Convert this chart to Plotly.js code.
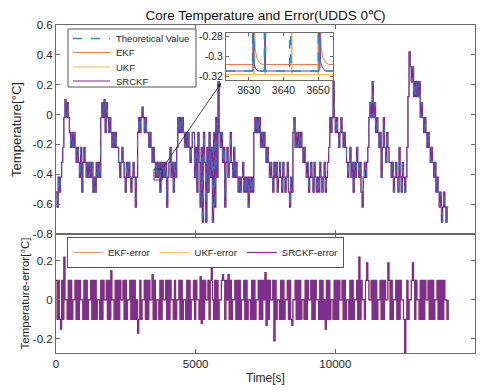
<!DOCTYPE html>
<html><head><meta charset="utf-8">
<script src="https://cdn.plot.ly/plotly-3.0.1.min.js"></script>
<style>html,body{margin:0;padding:0;background:#fff}#chart{width:489px;height:391px}</style>
</head><body><div id="chart"></div>
<script>
// ---- sample times (s) ----
const timeS = [
0,40,80,120,160,200,240,280,320,360,400,440,480,520,560,600,640,680,720,760,
800,840,880,920,960,1000,1040,1080,1120,1160,1200,1240,1280,1320,1360,1400,1440,1480,1520,1560,
1600,1640,1680,1720,1760,1800,1840,1880,1920,1960,2000,2040,2080,2120,2160,2200,2240,2280,2320,2360,
2400,2440,2480,2520,2560,2600,2640,2680,2720,2760,2800,2840,2880,2920,2960,3000,3040,3080,3120,3160,
3200,3240,3280,3320,3360,3400,3440,3480,3520,3560,3600,3640,3680,3720,3760,3800,3840,3880,3920,3960,
4000,4040,4080,4120,4160,4200,4240,4280,4320,4360,4400,4440,4480,4520,4560,4600,4640,4680,4720,4760,
4800,4840,4880,4920,4960,5000,5040,5080,5120,5160,5200,5240,5280,5320,5360,5400,5440,5480,5520,5560,
5600,5640,5680,5720,5760,5800,5840,5880,5920,5960,6000,6040,6080,6120,6160,6200,6240,6280,6320,6360,
6400,6440,6480,6520,6560,6600,6640,6680,6720,6760,6800,6840,6880,6920,6960,7000,7040,7080,7120,7160,
7200,7240,7280,7320,7360,7400,7440,7480,7520,7560,7600,7640,7680,7720,7760,7800,7840,7880,7920,7960,
8000,8040,8080,8120,8160,8200,8240,8280,8320,8360,8400,8440,8480,8520,8560,8600,8640,8680,8720,8760,
8800,8840,8880,8920,8960,9000,9040,9080,9120,9160,9200,9240,9280,9320,9360,9400,9440,9480,9520,9560,
9600,9640,9680,9720,9760,9800,9840,9880,9920,9960,10000,10040,10080,10120,10160,10200,10240,10280,10320,10360,
10400,10440,10480,10520,10560,10600,10640,10680,10720,10760,10800,10840,10880,10920,10960,11000,11040,11080,11120,11160,
11200,11240,11280,11320,11360,11400,11440,11480,11520,11560,11600,11640,11680,11720,11760,11800,11840,11880,11920,11960,
12000,12040,12080,12120,12160,12200,12240,12280,12320,12360,12400,12440,12480,12520,12560,12600,12640,12680,12720,12760,
12800,12840,12880,12920,12960,13000,13040,13080,13120,13160,13200,13240,13280,13320,13360,13400,13440,13480,13520,13560,
13600,13640,13680,13720,13760,13800,13840,13880,13920,13960,14000,14040];

// ---- core temperature (theoretical value; EKF/UKF/SRCKF overlap it at this scale) ----
const coreTemp = [
-0.52,-0.62,-0.42,-0.52,-0.42,-0.32,
-0.22,-0.02,0.1,-0.02,0.08,-0.02,
-0.12,-0.22,-0.12,-0.22,-0.12,
-0.22,-0.32,-0.22,-0.32,-0.42,-0.22,-0.52,-0.32,-0.22,-0.32,-0.42,-0.32,
-0.42,-0.32,-0.42,-0.32,-0.52,-0.42,-0.52,-0.32,-0.42,-0.32,-0.42,
-0.02,0.08,-0.02,0.1,-0.12,0.08,-0.02,-0.12,-0.02,
-0.12,-0.22,-0.12,-0.22,-0.12,-0.22,
-0.22,-0.32,-0.42,-0.32,-0.22,-0.32,-0.42,-0.52,-0.32,-0.42,-0.32,-0.42,-0.52,-0.42,-0.32,-0.42,-0.62,-0.42,
-0.12,-0.02,-0.12,-0.02,0.05,-0.02,-0.12,-0.02,-0.12,
-0.12,-0.22,-0.12,-0.22,-0.32,-0.22,-0.32,
-0.42,-0.32,-0.42,-0.32,-0.52,-0.32,-0.42,-0.32,-0.42,
-0.32,-0.62,-0.42,-0.32,-0.22,-0.42,-0.32,-0.52,-0.32,-0.42,-0.22,
-0.02,-0.12,-0.02,-0.12,-0.02,
-0.12,-0.22,-0.12,-0.22,-0.12,-0.22,-0.32,-0.22,-0.12,
-0.12,-0.42,-0.22,-0.52,-0.12,-0.32,-0.62,-0.22,-0.72,-0.12,-0.32,-0.72,-0.22,-0.52,-0.12,-0.42,-0.22,-0.72,-0.12,-0.62,-0.02,-0.42,0.22,-0.12,
-0.22,-0.12,-0.32,-0.22,-0.62,-0.32,-0.22,-0.42,-0.32,-0.12,-0.32,-0.42,-0.22,-0.42,-0.32,-0.42,
-0.52,-0.42,-0.52,-0.42,-0.32,-0.52,-0.42,-0.52,-0.42,-0.62,-0.42,-0.52,-0.42,-0.52,
-0.12,-0.02,-0.12,-0.02,-0.12,-0.02,-0.22,-0.12,-0.22,-0.12,-0.22,-0.32,-0.22,-0.32,
-0.42,-0.32,-0.42,-0.52,-0.32,-0.42,-0.32,-0.52,-0.42,-0.32,-0.42,-0.52,-0.32,-0.42,-0.52,-0.42,-0.32,-0.52,-0.62,-0.42,-0.52,
-0.12,-0.02,-0.22,-0.12,-0.22,
-0.12,-0.22,-0.12,-0.22,-0.32,-0.22,-0.32,-0.42,-0.32,-0.52,-0.42,-0.32,-0.42,-0.52,-0.32,-0.42,-0.52,-0.42,-0.52,-0.32,-0.42,-0.52,-0.42,-0.32,-0.52,-0.42,-0.32,
-0.22,-0.02,-0.12,-0.02,0.22,-0.02,
-0.12,-0.02,-0.12,-0.22,-0.12,-0.02,-0.12,-0.22,-0.12,-0.22,
-0.32,-0.42,-0.32,-0.22,-0.42,-0.32,-0.52,-0.32,-0.42,-0.22,-0.32,-0.42,-0.32,-0.52,-0.62,-0.42,-0.32,-0.42,-0.32,-0.22,
-0.02,0.08,-0.02,0.22,-0.02,0.08,-0.12,-0.02,
-0.12,-0.22,-0.12,-0.42,-0.22,-0.02,-0.22,-0.32,-0.12,-0.22,-0.32,
-0.32,-0.42,-0.32,-0.52,-0.42,-0.32,-0.42,-0.52,-0.22,-0.42,-0.52,-0.32,-0.42,-0.52,-0.42,-0.22,
0.12,0.42,
0.32,0.22,0.32,0.12,0.22,0.12,0.22,0.12,0.22,
-0.02,0.08,-0.02,-0.12,-0.02,-0.12,-0.22,-0.12,-0.22,-0.32,-0.22,-0.32,
-0.42,-0.32,-0.52,-0.42,
-0.52,-0.62,-0.52,-0.72,-0.62,-0.52,-0.62,-0.72,-0.62,-0.62];

// ---- estimation error band (filters switch between -0.1, 0, +0.1) ----
const errorBand = [
0.1,-0.1,0.1,-0.1,0,0.1,-0.1,0.1,0,0,-0.1,0.1,-0.1,0.1,-0.1,0,
0,0.1,-0.1,0.1,-0.1,0.1,0,0,-0.1,0.1,-0.1,0.1,-0.1,0,0,0.1,
-0.1,0.1,-0.1,0.1,-0.1,0,0,-0.1,0.1,-0.1,0.1,0,0,0.1,-0.1,0.1,
-0.1,0.1,0,0,-0.1,0.1,-0.1,0.1,-0.1,0.1,0,0,0.1,-0.1,0.1,-0.1,
0,0,0.1,-0.1,0.1,-0.1,0.1,-0.1,0,0,-0.1,0.1,-0.1,0,0,0.1,
-0.1,0.1,-0.1,0.1,0,0,0.1,-0.1,0.1,-0.1,0,0,-0.1,0.1,-0.1,0.1,
0,0,0.1,-0.1,0.1,-0.1,0.1,0,0,-0.1,0.1,-0.1,0,0,0.1,-0.1,
0.1,-0.1,0,0,-0.1,0.1,-0.1,0.1,-0.1,0,0,0.1,-0.1,0.1,0,0,
-0.1,0.1,-0.1,0.1,-0.1,0.1,0,0,0.1,-0.1,0.1,0,0,-0.1,0.1,-0.1,
0.1,-0.1,0,0,0.1,-0.1,0.1,-0.1,0.1,0,0,-0.1,0.1,-0.1,0,0,
0.1,-0.1,0.1,-0.1,0.1,-0.1,0,0,0.1,-0.1,0.1,-0.1,0,0,-0.1,0.1,
-0.1,0.1,-0.1,0,0,0.1,-0.1,0.1,-0.1,0.1,0,0,-0.1,0.1,-0.1,0.1,
0,0,0.1,-0.1,0.1,-0.1,0,0,-0.1,0.1,-0.1,0.1,-0.1,0,0,0.1,
-0.1,0.1,-0.1,0.1,0,0,0.1,-0.1,0.1,-0.1,0.1,-0.1,0,0,-0.1,0.1,
-0.1,0.1,0,0,0.1,-0.1,0.1,-0.1,0.1,0,0,-0.1,0.1,-0.1,0.1,-0.1,
0,0,0.1,-0.1,0.1,-0.1,0,0,-0.1,0.1,-0.1,0.1,-0.1,0.1,0,0,
0.1,-0.1,0.1,-0.1,0,0,-0.1,0.1,-0.1,0.1,-0.1,0,0,0.1,-0.1,0.1,
-0.1,0.1,0,0,-0.1,0.1,-0.1,0.1,0,0,0.1,-0.1,0.1,-0.1,0.1,-0.1,
0,0,0.1,-0.1,0.1,-0.1,0.1,0,0,-0.1,0.1,-0.1,0.1,-0.1,0,0,
0.1,-0.1,0.1,-0.1,0.1,0,0,-0.1,0.1,-0.1,0.1,-0.1,0,0,0.1,-0.1,
0.1,-0.1,0.1,0,0,-0.1,0.1,-0.1,0.1,-0.1,0.1,0,0,0.1,-0.1,0.1,
-0.1,0.1,-0.1,0,0,0.1,-0.1,0.1,-0.1,0.1,-0.1,0.1,0,0,-0.1,0];

// error spikes (time s, value)
const errSpikeTimes  = [160,280,1960,2920,3440,5160,5200,5560,5960,6160,7480,7520,7800,8440,9640,10840,11120,11880,12480,12760];
const errSpikeValues = [-0.15,0.22,0.15,-0.17,0.13,0.12,-0.12,0.16,0.13,0.13,0.14,-0.13,-0.21,-0.13,-0.15,0.22,0.19,0.19,-0.28,0.19];

// ---- inset (zoom 3623-3654 s) ----
const insetTheoryT = [3623.4,3631.1,3631.1,3631.5,3631.5,3634.5,3634.5,3634.8,3634.8,3641.8,3641.8,3642.1,3642.1,3650.1,3650.1,3650.5,3650.5,3654.3];
const insetTheoryV = [-0.315,-0.315,-0.215,-0.215,-0.315,-0.315,-0.215,-0.215,-0.315,-0.315,-0.215,-0.215,-0.315,-0.315,-0.215,-0.215,-0.315,-0.315];
const insetEkfT = [3623.4,3631.2,3631.25,3631.5,3631.8,3632.3,3633.2,3634.0,3650.3,3650.35,3650.6,3650.9,3651.4,3652.3,3653.1,3654.3];
const insetEkfV = [-0.3085,-0.3085,-0.21,-0.27,-0.292,-0.302,-0.307,-0.3085,-0.3085,-0.21,-0.27,-0.292,-0.302,-0.307,-0.3085,-0.3085];
const insetUkfT = [3623.4,3631.5,3631.5,3631.7,3631.7,3634.6,3634.6,3634.8,3634.8,3642.3,3642.3,3642.5,3642.5,3649.9,3649.9,3650.1,3650.1,3654.3];
const insetUkfV = [-0.3187,-0.3187,-0.215,-0.215,-0.3187,-0.3187,-0.215,-0.215,-0.3187,-0.3187,-0.215,-0.215,-0.3187,-0.3187,-0.215,-0.215,-0.3187,-0.3187];
const insetSrckfT = [3623.4,3631.2,3631.25,3631.5,3631.9,3632.5,3634.6,3634.65,3634.8,3650.3,3650.35,3650.7,3651.2,3652.0,3654.3];
const insetSrckfV = [-0.315,-0.315,-0.215,-0.308,-0.312,-0.315,-0.315,-0.215,-0.315,-0.315,-0.215,-0.306,-0.311,-0.315,-0.315];

// ---- ticks / legend labels ----
const timeTickVals = [0,5000,10000,15000];
const timeTickText = ['0','5000','10000','15000'];
const tempTickVals = [-0.8,-0.6,-0.4,-0.2,0,0.2,0.4,0.6];
const tempTickText = ['-0.8','-0.6','-0.4','-0.2','0','0.2','0.4','0.6'];
const errTickVals = [-0.2,0,0.2];
const errTickText = ['-0.2','0','0.2'];
const insetXTickVals = [3630,3640,3650];
const insetXTickText = ['3630','3640','3650'];
const insetYTickVals = [-0.32,-0.3,-0.28];
const insetYTickText = ['-0.32','-0.3','-0.28'];
const topLegendNames = ['Theoretical Value','EKF','UKF','SRCKF'];

// ---- build ----
const filterError = errorBand.map((v,i)=>{const k=errSpikeTimes.indexOf(timeS[i]);return k>=0?errSpikeValues[k]:v;});

const C = {theory:'#2F86D3', ekf:'#EC7A57', ukf:'#F0BE3C', srckf:'#7E2F8E'};
const FONT = 'Liberation Sans, Arial, Helvetica, sans-serif';
const AX = '#6b6b6b';

const traces = [
 {x:timeS,y:coreTemp,name:'EKF',type:'scatter',mode:'lines',line:{color:C.ekf,width:0.6,shape:'hv',simplify:false},showlegend:false,xaxis:'x',yaxis:'y'},
 {x:timeS,y:coreTemp,name:'UKF',type:'scatter',mode:'lines',line:{color:C.ukf,width:0.6,shape:'hv',simplify:false},showlegend:false,xaxis:'x',yaxis:'y'},
 {x:timeS,y:coreTemp,name:'SRCKF',type:'scatter',mode:'lines',line:{color:C.srckf,width:1.3,shape:'hv',simplify:false},showlegend:false,xaxis:'x',yaxis:'y'},
 {x:timeS,y:coreTemp,name:'Theoretical Value',type:'scatter',mode:'lines',opacity:0.75,line:{color:C.theory,width:0.9,dash:'dash',shape:'hv',simplify:false},showlegend:false,xaxis:'x',yaxis:'y'},

 {x:timeS,y:filterError,name:'EKF-error',type:'scatter',mode:'lines',line:{color:C.ekf,width:0.8,shape:'hv',simplify:false},legend:'legend2',xaxis:'x2',yaxis:'y2'},
 {x:timeS,y:filterError,name:'UKF-error',type:'scatter',mode:'lines',line:{color:C.ukf,width:0.8,shape:'hv',simplify:false},legend:'legend2',xaxis:'x2',yaxis:'y2'},
 {x:timeS,y:filterError,name:'SRCKF-error',type:'scatter',mode:'lines',line:{color:C.srckf,width:1.2,shape:'hv',simplify:false},legend:'legend2',xaxis:'x2',yaxis:'y2'},

 {x:insetEkfT,y:insetEkfV,type:'scatter',mode:'lines',line:{color:C.ekf,width:1},showlegend:false,xaxis:'x3',yaxis:'y3'},
 {x:insetUkfT,y:insetUkfV,type:'scatter',mode:'lines',line:{color:C.ukf,width:1},showlegend:false,xaxis:'x3',yaxis:'y3'},
 {x:insetSrckfT,y:insetSrckfV,type:'scatter',mode:'lines',line:{color:C.srckf,width:1},showlegend:false,xaxis:'x3',yaxis:'y3'},
 {x:insetTheoryT,y:insetTheoryV,type:'scatter',mode:'lines',line:{color:C.theory,width:1.6,dash:'dash'},showlegend:false,xaxis:'x3',yaxis:'y3'}
];

// top legend (boxed key, pixel positions converted to paper coords)
const PL=56, PW=419, PB=353, PH=328;
const px = x => (x-PL)/PW, py = y => (PB-y)/PH;
const legendStyles = [
 {color:C.theory,width:1.6,dash:'dash'},
 {color:C.ekf,width:1.2,dash:'solid'},
 {color:C.ukf,width:1.2,dash:'solid'},
 {color:C.srckf,width:1.2,dash:'solid'}
];
const legendRowY = [38.5,52.5,67,81];
const shapes = [
 {type:'rect',xref:'x',yref:'y',x0:3508,x1:3806,y0:-0.438,y1:-0.3646,line:{color:'#222',width:0.8}},
 {type:'rect',xref:'paper',yref:'paper',x0:px(68),x1:px(196),y0:py(87),y1:py(29),line:{color:'#555',width:1},fillcolor:'#fff',layer:'above'}
];
const annotations = [
 {x:5907,y:0.2115,xref:'x',yref:'y',ax:-59,ay:86,text:'',showarrow:true,arrowhead:2,arrowsize:1,arrowwidth:0.8,arrowcolor:'#222'}
];
topLegendNames.forEach((name,i)=>{
  shapes.push({type:'line',xref:'paper',yref:'paper',x0:px(73),x1:px(110),y0:py(legendRowY[i]),y1:py(legendRowY[i]),line:legendStyles[i],layer:'above'});
  annotations.push({xref:'paper',yref:'paper',x:px(114),y:py(legendRowY[i]),xanchor:'left',yanchor:'middle',text:name,showarrow:false,
    font:{family:FONT,size:9.5,color:'#262626'}});
});

const baseAxis = {showline:true,linecolor:AX,linewidth:1,mirror:'ticks',ticks:'inside',ticklen:4,tickcolor:AX,
  showgrid:false,zeroline:false,automargin:false,tickfont:{family:FONT,size:11.5,color:'#262626'}};

const layout = {
 width:489,height:391,margin:{l:56,r:14,t:25,b:38,pad:0},
 paper_bgcolor:'#fff',plot_bgcolor:'#fff',
 font:{family:FONT,color:'#262626'},
 title:{text:'Core Temperature and Error(UDDS 0℃)',font:{family:FONT,size:13.5,color:'#111'},
        x:0.5,xref:'paper',xanchor:'center',y:1-15/391,yref:'container',yanchor:'middle'},
 xaxis:Object.assign({},baseAxis,{domain:[0,1],anchor:'y',range:[0,15000],tickvals:timeTickVals,showticklabels:false}),
 yaxis:Object.assign({},baseAxis,{domain:[0.3628,1],anchor:'x',range:[-0.8,0.6],tickvals:tempTickVals,ticktext:tempTickText,
        title:{text:'Temperature[°C]',font:{family:FONT,size:13,color:'#262626'},standoff:8}}),
 xaxis2:Object.assign({},baseAxis,{domain:[0,1],anchor:'y2',range:[0,15000],tickvals:timeTickVals,ticktext:timeTickText,
        title:{text:'Time[s]',font:{family:FONT,size:12,color:'#262626'},standoff:4}}),
 yaxis2:Object.assign({},baseAxis,{domain:[0,0.3628],anchor:'x2',range:[-0.272,0.338],tickvals:errTickVals,ticktext:errTickText,
        title:{text:'Temperature-error[°C]',font:{family:FONT,size:11.5,color:'#262626'},standoff:0}}),
 xaxis3:Object.assign({},baseAxis,{domain:[0.4057,0.661],anchor:'y3',range:[3623.4,3654.3],tickvals:insetXTickVals,ticktext:insetXTickText,
        ticklen:3,tickfont:{family:FONT,size:10.5,color:'#262626'}}),
 yaxis3:Object.assign({},baseAxis,{domain:[0.8323,0.9756],anchor:'x3',range:[-0.324,-0.277],tickvals:insetYTickVals,ticktext:insetYTickText,
        ticklen:3,tickfont:{family:FONT,size:10.5,color:'#262626'}}),
 legend2:{orientation:'h',x:0.026,y:0.3537,xanchor:'left',yanchor:'top',bgcolor:'#fff',bordercolor:'#555',borderwidth:1,
        font:{family:FONT,size:9.5,color:'#262626'}},
 shapes:shapes,
 annotations:annotations
};

Plotly.newPlot('chart',traces,layout,{displayModeBar:false,staticPlot:true});
</script></body></html>
